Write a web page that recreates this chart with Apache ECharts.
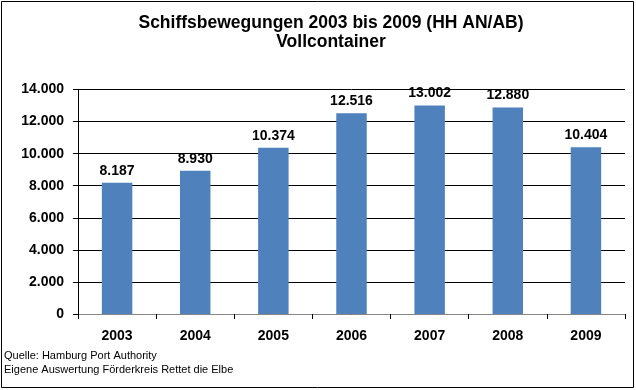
<!DOCTYPE html>
<html>
<head>
<meta charset="utf-8">
<script src="https://cdn.jsdelivr.net/npm/echarts@6/dist/echarts.min.js"></script>
<style>html,body{margin:0;padding:0;background:#fff}#c{width:636px;height:390px}</style>
</head>
<body>
<div id="c"></div>
<script>
const categories = ['2003', '2004', '2005', '2006', '2007', '2008', '2009'];
const values = [8187, 8930, 10374, 12516, 13002, 12880, 10404];
const titleLines = ['Schiffsbewegungen 2003 bis 2009 (HH AN/AB)', 'Vollcontainer'];
const sourceLines = ['Quelle: Hamburg Port Authority', 'Eigene Auswertung Förderkreis Rettet die Elbe'];

function fmt(v) { return String(v).replace(/\B(?=(\d{3})+(?!\d))/g, '.'); }

const FONT = 'Liberation Sans, Arial, sans-serif';
const chart = echarts.init(document.getElementById('c'), null, {renderer: 'canvas'});
chart.setOption({
  animation: false,
  backgroundColor: '#fff',
  textStyle: {fontFamily: FONT},
  title: {
    text: titleLines.join('\n'),
    left: 331, top: 13, textAlign: 'center', padding: 0,
    textStyle: {fontSize: 17.5, fontWeight: 'bold', color: '#000', lineHeight: 19.5, fontFamily: FONT}
  },
  grid: {left: 78, right: 11, top: 89.5, bottom: 76, containLabel: false},
  xAxis: {
    type: 'category', data: categories,
    axisLine: {lineStyle: {color: '#868686', width: 1}},
    axisTick: {show: true, length: 5, lineStyle: {color: '#000'}},
    axisLabel: {fontSize: 14, fontWeight: 'bold', color: '#000', margin: 15}
  },
  yAxis: {
    type: 'value', min: 0, max: 14000, interval: 2000,
    axisLine: {show: true, lineStyle: {color: '#000'}},
    axisTick: {show: true, length: 5, lineStyle: {color: '#000'}},
    splitLine: {lineStyle: {color: '#000', width: 1}},
    axisLabel: {fontSize: 14, fontWeight: 'bold', color: '#000', margin: 14, formatter: fmt}
  },
  series: [{
    type: 'bar', data: values, barWidth: '39%',
    itemStyle: {color: '#4F81BD'},
    label: {show: true, position: 'top', distance: 5, fontSize: 14, fontWeight: 'bold', color: '#000', formatter: p => fmt(p.value)}
  }],
  graphic: [
    {type: 'rect', shape: {x: 1.5, y: 1.5, width: 632, height: 386}, style: {fill: null, stroke: '#000', lineWidth: 1}, silent: true, z: -1},
    {type: 'text', left: 4, top: 349, style: {text: sourceLines.join('\n'), fontSize: 11, lineHeight: 14, fill: '#000', fontFamily: FONT}}
  ]
});
</script>
</body>
</html>
